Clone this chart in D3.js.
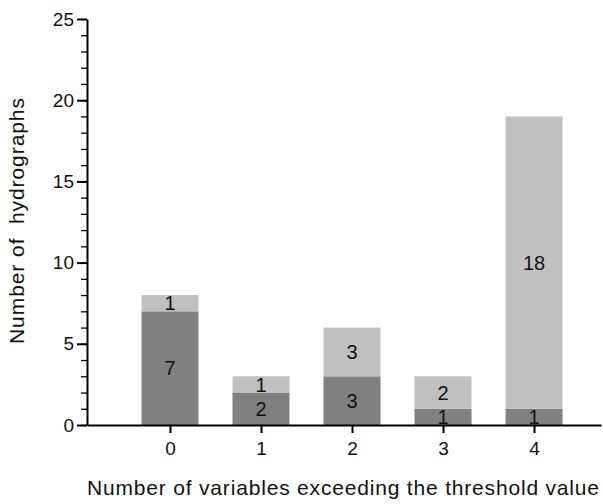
<!DOCTYPE html>
<html>
<head>
<meta charset="utf-8">
<script src="https://cdn.jsdelivr.net/npm/d3@7"></script>
<style>
body{margin:0;background:#fff;}
text{font-family:"Liberation Sans",Arial,sans-serif;fill:#111;}
</style>
</head>
<body>
<svg id="chart" width="603" height="504"></svg>
<script>
// values
const cats = [0, 1, 2, 3, 4];
const lower = [7, 2, 3, 1, 1];
const upper = [1, 1, 3, 2, 18];
const yTicks = [0, 5, 10, 15, 20, 25];

const FONT = '"Liberation Sans",Arial,sans-serif';
const svg = d3.select('#chart');
const x = d3.scaleLinear().domain([-0.912, 4.736]).range([87, 601]);
const y = d3.scaleLinear().domain([0, 25]).range([425, 19]);
const barW = 57;

let rows = cats.map((c, i) => ({cat: c, lo: lower[i], up: upper[i]}));

// bars
const g = svg.append('g');
rows.forEach(d => {
  g.append('rect')
    .attr('x', x(d.cat) - barW/2).attr('width', barW)
    .attr('y', y(d.lo)).attr('height', y(0) - y(d.lo))
    .attr('fill', '#808080');
  g.append('rect')
    .attr('x', x(d.cat) - barW/2).attr('width', barW)
    .attr('y', y(d.lo + d.up)).attr('height', y(d.lo) - y(d.lo + d.up))
    .attr('fill', '#c0c0c0');
  g.append('text')
    .attr('x', x(d.cat)).attr('y', y(d.lo/2))
    .attr('dy', '0.36em').attr('text-anchor', 'middle')
    .style('font-size', '20px').text(d.lo);
  g.append('text')
    .attr('x', x(d.cat)).attr('y', y(d.lo + d.up/2))
    .attr('dy', '0.36em').attr('text-anchor', 'middle')
    .style('font-size', '20px').text(d.up);
});

// y axis: minor ticks then major
svg.append('g').attr('transform', 'translate(87,0)')
  .call(d3.axisLeft(y).ticks(25).tickSize(6).tickFormat('').tickSizeOuter(0))
  .call(a => a.select('.domain').remove())
  .selectAll('line').attr('stroke', '#000').attr('stroke-width', 1.3);
const ya = svg.append('g').attr('transform', 'translate(87,0)')
  .call(d3.axisLeft(y).tickValues(yTicks).tickSize(10).tickSizeOuter(0).tickPadding(3));
ya.select('.domain').attr('stroke', '#000').attr('stroke-width', 2);
ya.selectAll('line').attr('stroke', '#000').attr('stroke-width', 2);
ya.selectAll('text').style('font-size', '19px').style('font-family', FONT).attr('fill', '#111');

// x axis
const xa = svg.append('g').attr('transform', 'translate(0,425)')
  .call(d3.axisBottom(x).tickValues(cats).tickFormat(d3.format('d')).tickSize(8).tickSizeOuter(0).tickPadding(9));
xa.select('.domain').attr('stroke', '#000').attr('stroke-width', 2);
xa.selectAll('line').attr('stroke', '#000').attr('stroke-width', 2);
xa.selectAll('text').style('font-size', '19px').style('font-family', FONT).attr('fill', '#111');

// titles
svg.append('text').attr('x', 343).attr('y', 495).attr('text-anchor', 'middle')
  .attr('textLength', 512).attr('lengthAdjust', 'spacing')
  .style('font-size', '21px').text('Number of variables exceeding the threshold value');
svg.append('text').attr('transform', 'translate(24,221) rotate(-90)')
  .attr('text-anchor', 'middle').attr('textLength', 246).attr('lengthAdjust', 'spacing')
  .style('font-size', '21px').style('white-space', 'pre')
  .text('Number of  hydrographs');
</script>
</body>
</html>
